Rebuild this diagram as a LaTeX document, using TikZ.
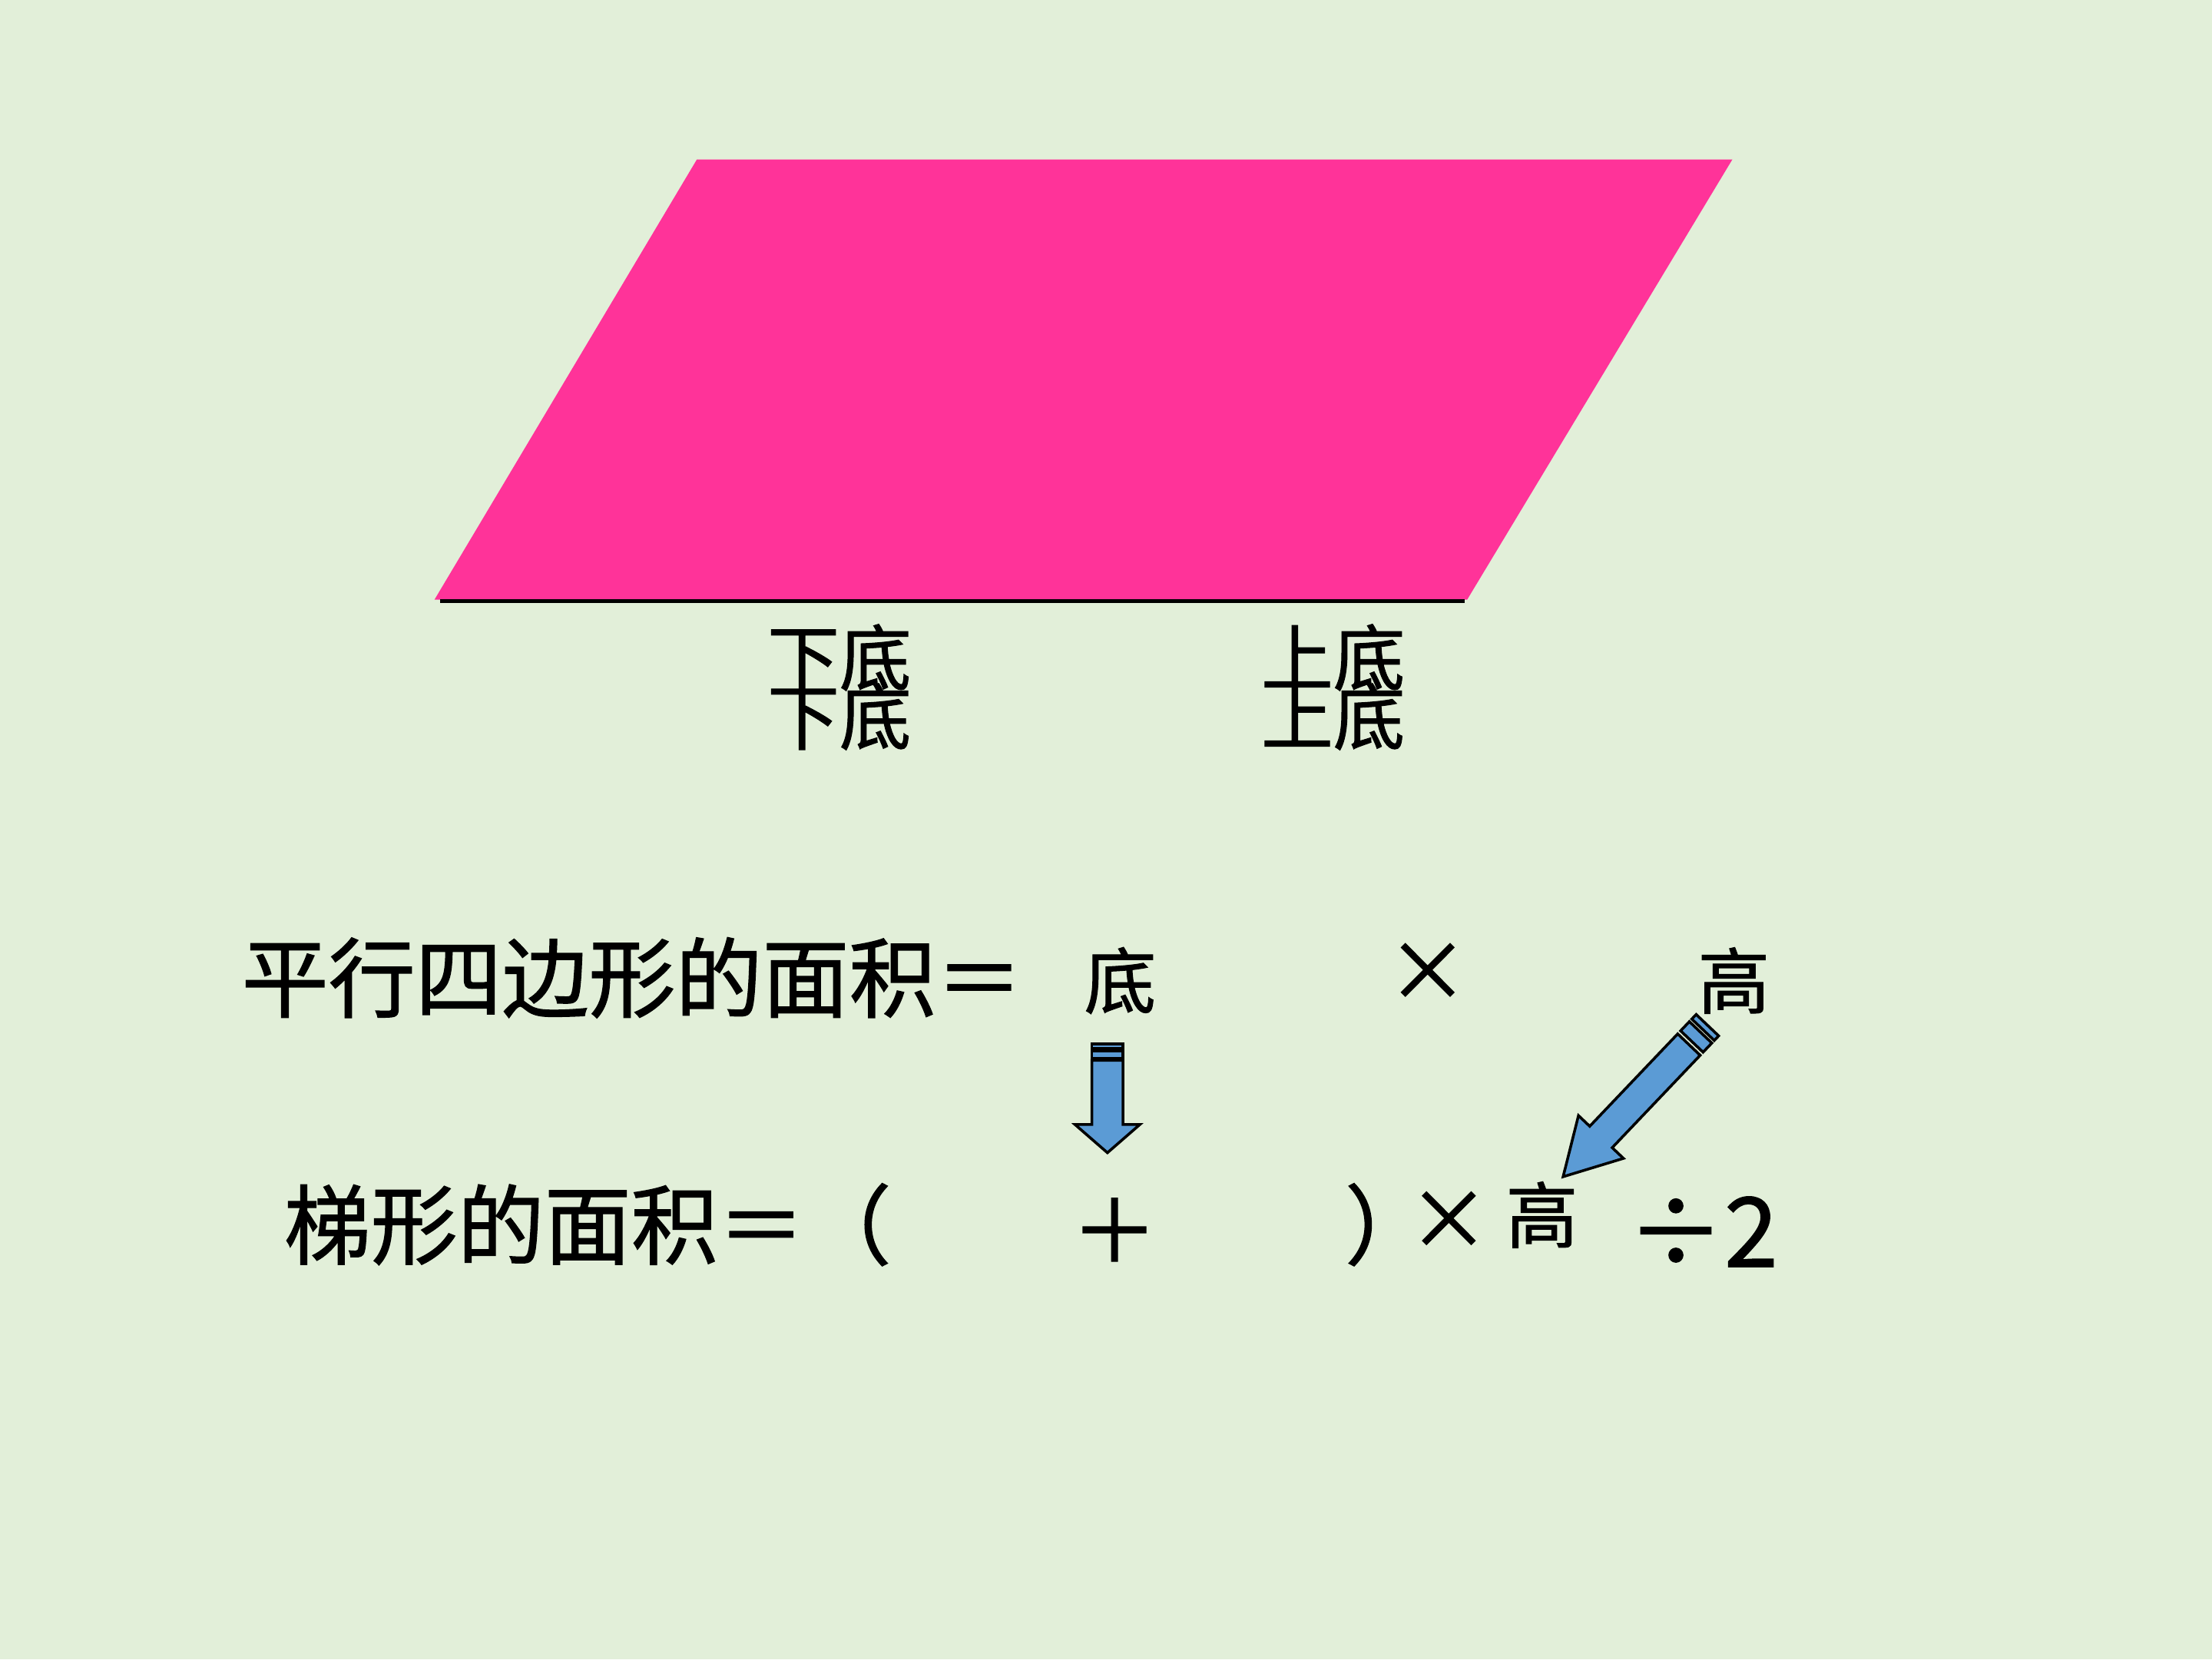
\documentclass[tikz,border=0pt]{standalone}
\usepackage{fontspec}
\usepackage{xcolor}
\usepackage{tikz}
\newfontfamily\cjk[FakeBold=1.2]{Noto Sans CJK SC}
\definecolor{bg}{RGB}{226,239,217}
\definecolor{rose}{RGB}{255,51,153}
\definecolor{arrowblue}{RGB}{91,155,213}

\begin{document}
\begin{tikzpicture}[big/.style={font=\cjk\fontsize{35}{40}\selectfont, inner sep=0pt},
    small/.style={font=\cjk\fontsize{29}{34}\selectfont, inner sep=0pt},
    blockarrow/.style={fill=arrowblue, draw=black, line width=1.1pt, line join=miter}]

    \useasboundingbox (0,0) rectangle (31.36,23.52);
    \fill [bg] (0,0) rectangle (31.36,23.52);

    \fill [rose] (6.16,15.02) -- (9.88,21.26) -- (24.56,21.26) -- (20.80,15.02) -- cycle;
    \coordinate (p) at (6.24,15.0);
    \coordinate (q) at (20.76,15.0);
    \draw [line width=1.4pt] (p) -- (q);

    \node [small] (a) at (11.9, 14.2) {下底};
    \node [small] (b) at (11.9, 13.36) {下底};
    \node [small] (c) at (18.9, 14.2) {上底};
    \node [small] (d) at (18.9, 13.36) {上底};

    \node [big, anchor=west] (e) at (3.42, 9.66) {平行四边形的面积＝};
    \node [small] (f) at (15.88, 9.62) {底};
    \node [small, font=\cjk\fontsize{33}{38}\selectfont] (g) at (20.24, 9.74) {×};
    \node [small] (h) at (24.58, 9.62) {高};

    \node [big, anchor=west] (i) at (4.02, 6.16) {梯形的面积＝（};
    \node [big] (j) at (15.8, 6.08) {＋};
    \node [big, anchor=west] (k) at (19.06, 6.16) {）};
    \node [small, font=\cjk\fontsize{33}{38}\selectfont] (l) at (20.54, 6.22) {×};
    \node [small] (m) at (21.86, 6.3) {高};
    \node [big, font=\cjk\fontsize{39}{44}\selectfont] (n) at (24.14, 6.06) {÷2};

    % striped arrows
    \coordinate (s) at (15.7, 8.72);
    \coordinate (t) at (24.206, 8.988);
    \begin{scope}[shift={(s)}, rotate=-90, x=0.02cm, y=0.02cm]
        \draw [blockarrow] (0,-11) rectangle (3.3,11);
        \draw [blockarrow] (5,-11) rectangle (10,11);
        \draw [blockarrow] (11.5,-11) -- (57,-11) -- (57,-23) -- (77,0) -- (57,23) -- (57,11) -- (11.5,11) -- cycle;
    \end{scope}
    \begin{scope}[shift={(t)}, rotate=-133.6, x=0.02cm, y=0.02cm]
        \draw [blockarrow] (0,-11) rectangle (4.5,11);
        \draw [blockarrow] (7,-11) rectangle (16,11);
        \draw [blockarrow] (19,-11) -- (109.4,-11) -- (109.4,-22) -- (148.3,0) -- (109.4,22) -- (109.4,11) -- (19,11) -- cycle;
    \end{scope}

\end{tikzpicture}
\end{document}
